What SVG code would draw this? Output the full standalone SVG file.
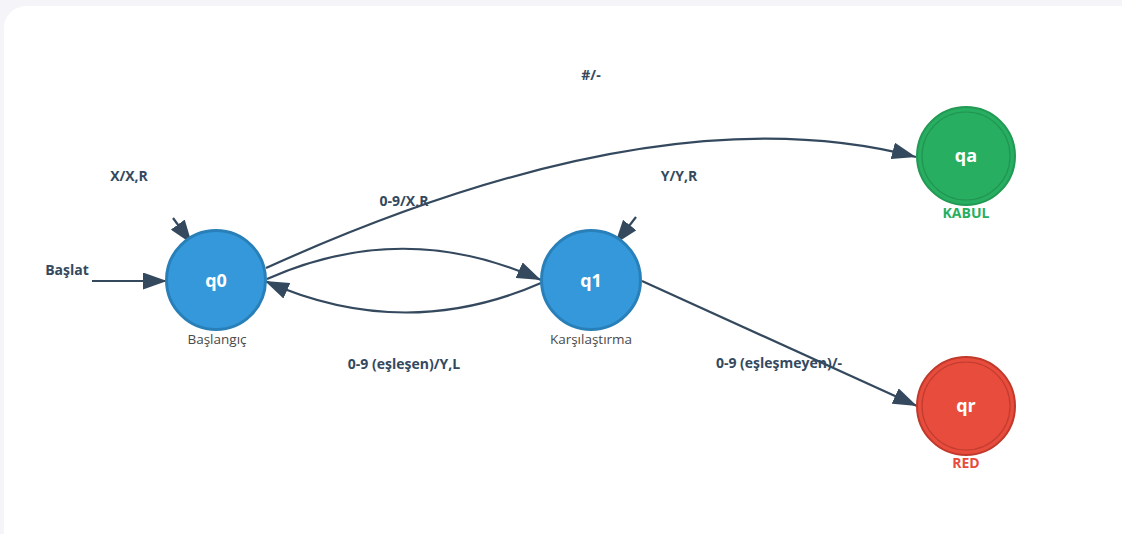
<svg xmlns="http://www.w3.org/2000/svg" width="1122" height="534" viewBox="0 0 1122 534">
<style>
.lbl{font-family:"Open Sans","Liberation Sans",sans-serif;font-weight:700;font-size:14px;fill:#34495e;text-anchor:middle}
.sub{font-family:"Open Sans","Liberation Sans",sans-serif;font-size:13.5px;fill:#4a4a4a;text-anchor:middle}
.nm{font-family:"Open Sans","Liberation Sans",sans-serif;font-weight:700;font-size:18px;fill:#ffffff;text-anchor:middle}
.edge{fill:none;stroke:#34495e;stroke-width:2.2}
.blue{fill:#3498db;stroke:#2980b9;stroke-width:3}
.green{fill:#27ae60;stroke:#229954;stroke-width:2}
.red{fill:#e74c3c;stroke:#c0392b;stroke-width:2}
.inner{fill:none;stroke-width:1.2;stroke-opacity:0.6}
</style>
<defs>
<marker id="ah" viewBox="0 0 24 17" refX="24" refY="8.5" markerWidth="24" markerHeight="17" markerUnits="userSpaceOnUse" orient="auto">
<path d="M0,0 L24,8.5 L0,17 Z" fill="#34495e"/>
</marker>
</defs>
<rect x="0" y="0" width="1122" height="534" fill="#f4f4f9"/>
<rect x="4" y="6" width="1160" height="580" rx="22" fill="#ffffff"/>
<g id="connectors">
<line class="edge" x1="92" y1="281" x2="167" y2="281" marker-end="url(#ah)"/>
<line class="edge" x1="173" y1="218" x2="192" y2="244" marker-end="url(#ah)"/>
<line class="edge" x1="636" y1="217" x2="615" y2="244" marker-end="url(#ah)"/>
<path class="edge" d="M267,279 Q404,218 541,280" marker-end="url(#ah)"/>
<path class="edge" d="M541,283 Q404,343 265,281" marker-end="url(#ah)"/>
<path class="edge" d="M266,268 Q660,90 916,157" marker-end="url(#ah)"/>
<line class="edge" x1="642" y1="281" x2="917" y2="406" marker-end="url(#ah)"/>
<text class="lbl" x="67" y="275">Başlat</text>
<text class="lbl" x="129" y="181">X/X,R</text>
<text class="lbl" x="679" y="181">Y/Y,R</text>
<text class="lbl" x="404" y="206">0-9/X,R</text>
<text class="lbl" x="404" y="369">0-9 (eşleşen)/Y,L</text>
<text class="lbl" x="591" y="80">#/-</text>
<text class="lbl" x="779" y="368">0-9 (eşleşmeyen)/-</text>
</g>
<g id="q0">
<circle class="blue" cx="216" cy="280" r="49.5"/>
<text class="nm" x="216" y="287">q0</text>
<text class="sub" x="217" y="344">Başlangıç</text>
</g>
<g id="q1">
<circle class="blue" cx="591" cy="280" r="49.5"/>
<text class="nm" x="591" y="287">q1</text>
<text class="sub" x="591" y="344">Karşılaştırma</text>
</g>
<g id="qa">
<circle class="green" cx="966" cy="156" r="49"/>
<circle class="inner" cx="966" cy="156" r="44" stroke="#1e8449"/>
<text class="nm" x="966" y="162">qa</text>
<text class="lbl" x="966" y="218" style="fill:#27ae60">KABUL</text>
</g>
<g id="qr">
<circle class="red" cx="966" cy="406" r="49"/>
<circle class="inner" cx="966" cy="406" r="44" stroke="#a93226"/>
<text class="nm" x="966" y="412">qr</text>
<text class="lbl" x="966" y="468" style="fill:#e74c3c">RED</text>
</g>
</svg>
